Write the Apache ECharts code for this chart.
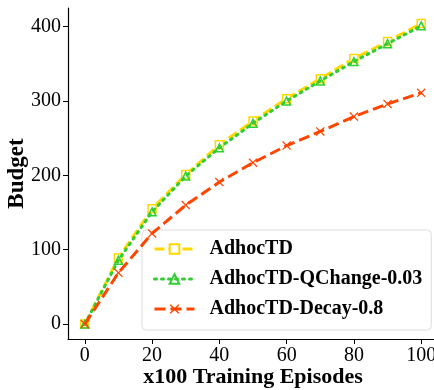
<!DOCTYPE html>
<html>
<head>
<meta charset="utf-8">
<title>Budget</title>
<script src="https://cdn.jsdelivr.net/npm/echarts@6/dist/echarts.min.js"></script>
</head>
<body style="margin:0;background:#fff;">
<div id="main" style="width:434px;height:390px;"></div>
<script type="text/javascript">
    var episodes = [0, 10, 20, 30, 40, 50, 60, 70, 80, 90, 100];
    var adhocTD = [0, 89, 155, 201, 241, 273, 303, 330, 357, 380, 404];
    var qChange = [0, 86, 151, 199, 237, 270, 300, 327, 353, 377, 401];
    var decay = [0, 69, 122, 160, 191, 217, 240, 259, 279, 296, 311];
    var seriesNames = ['AdhocTD', 'AdhocTD-QChange-0.03', 'AdhocTD-Decay-0.8'];
    var xTicks = [0, 20, 40, 60, 80, 100];
    var yTicks = [0, 100, 200, 300, 400];

    function pairs(ys) {
        var out = [];
        for (var i = 0; i < episodes.length; ++i) {
            out.push([episodes[i], ys[i]]);
        }
        return out;
    }

    var font = '"Liberation Serif", "DejaVu Serif", serif';
    var crossPath = 'path://M0,1L1,0L5,4L9,0L10,1L6,5L10,9L9,10L5,6L1,10L0,9L4,5Z';

    var myChart = echarts.init(document.getElementById('main'));
    myChart.setOption({
        animation: false,
        grid: { left: 68, right: -4, top: 8, bottom: 51, outerBoundsMode: 'none' },
        xAxis: {
            type: 'value',
            min: -5,
            max: 105,
            name: 'x100 Training Episodes',
            nameLocation: 'middle',
            nameMoveOverlap: false,
            nameGap: 27,
            nameTextStyle: { fontFamily: font, fontWeight: 'bold', fontSize: 22, color: '#000' },
            axisLine: { onZero: false, lineStyle: { color: '#000', width: 1.2 } },
            axisTick: { show: true, length: 5, customValues: xTicks, lineStyle: { color: '#000' } },
            axisLabel: { customValues: xTicks, fontFamily: font, fontSize: 20, color: '#000', margin: 7 },
            splitLine: { show: false }
        },
        yAxis: {
            type: 'value',
            min: -20,
            max: 425,
            name: 'Budget',
            nameLocation: 'middle',
            nameMoveOverlap: false,
            nameGap: 39,
            nameTextStyle: { fontFamily: font, fontWeight: 'bold', fontSize: 23, color: '#000' },
            axisLine: { show: true, onZero: false, lineStyle: { color: '#000', width: 1.2 } },
            axisTick: { show: true, length: 5, customValues: yTicks, lineStyle: { color: '#000' } },
            axisLabel: { customValues: yTicks, fontFamily: font, fontSize: 20, color: '#000', margin: 7 },
            splitLine: { show: false }
        },
        legend: {
            data: seriesNames,
            orient: 'vertical',
            left: 142,
            top: 230,
            padding: [9, 9, 11, 11],
            itemGap: 10,
            itemWidth: 40,
            itemHeight: 12,
            backgroundColor: '#fff',
            borderColor: '#ddd',
            borderWidth: 1,
            borderRadius: 4,
            lineStyle: { width: 3 },
            textStyle: { fontFamily: font, fontWeight: 'bold', fontSize: 20, color: '#000', padding: [0, 0, 0, 10] }
        },
        series: [{
            name: seriesNames[0],
            type: 'line',
            data: pairs(adhocTD),
            symbol: 'rect',
            symbolSize: 8,
            itemStyle: { color: '#fff', borderColor: '#FFD700', borderWidth: 1.5 },
            lineStyle: { color: '#FFD700', width: 3, type: [10, 4] },
            z: 2
        }, {
            name: seriesNames[1],
            type: 'line',
            data: pairs(qChange),
            symbol: 'triangle',
            symbolSize: 8,
            itemStyle: { color: 'rgba(255,255,255,0)', borderColor: '#32CD32', borderWidth: 1.5 },
            lineStyle: { color: '#32CD32', width: 3, type: [2, 5], cap: 'round' },
            z: 3
        }, {
            name: seriesNames[2],
            type: 'line',
            data: pairs(decay),
            symbol: crossPath,
            symbolSize: 9,
            itemStyle: { color: '#FF4500' },
            lineStyle: { color: '#FF4500', width: 3, type: [11, 5] },
            z: 4
        }]
    });
</script>
</body>
</html>
